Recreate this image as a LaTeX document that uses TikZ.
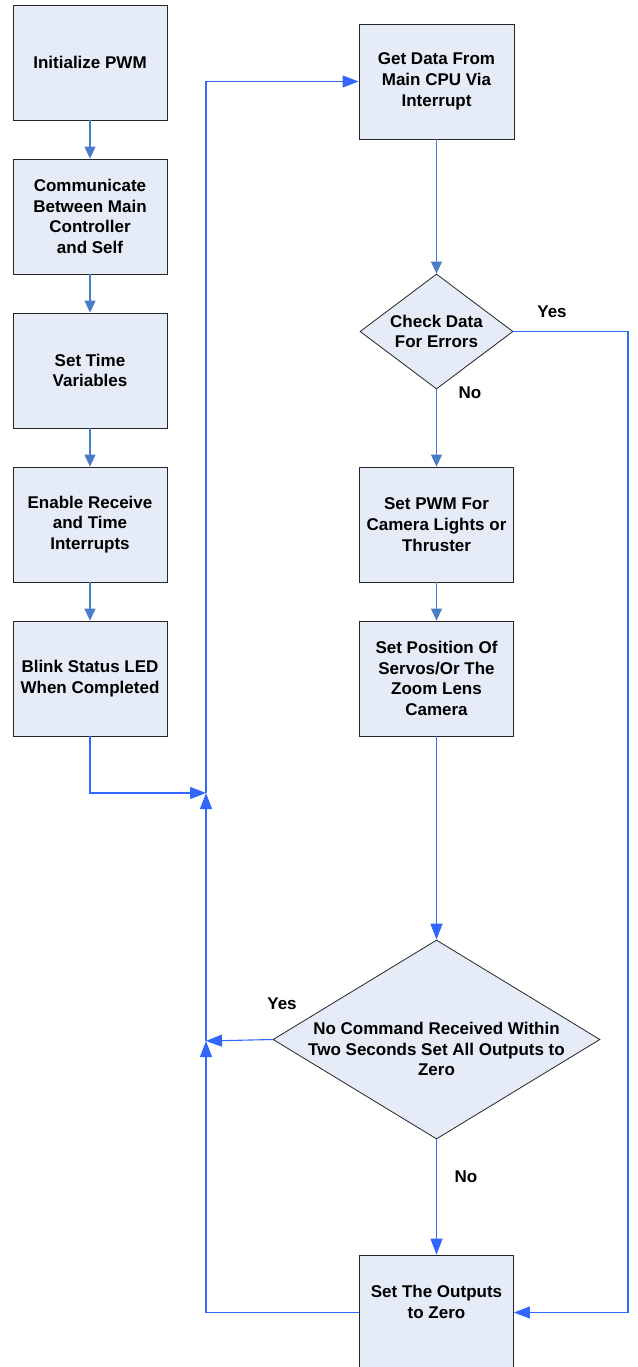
\documentclass[tikz,border=0pt]{standalone}
\usepackage{fontspec}
\setmainfont{Liberation Sans}
\usetikzlibrary{shapes.geometric,arrows.meta}
\definecolor{boxfill}{HTML}{E6ECF7}
\definecolor{arrA}{HTML}{4A7CC9}
\definecolor{arrB}{HTML}{3366FF}
\newcommand\flowtxt{\fontsize{17}{20.7}\selectfont\bfseries}
\tikzset{
 proc/.style={draw=black!85,line width=0.8pt,fill=boxfill,minimum width=154pt,minimum height=115pt,inner sep=0pt,align=center,font=\flowtxt},
 dec/.style={diamond,draw=black!85,line width=0.8pt,fill=boxfill,inner sep=0pt},
 lbl/.style={align=center,font=\flowtxt,inner sep=0pt},
 flowA/.style={draw=arrA,line width=1.1pt,-{Triangle[length=12pt,width=11pt]}},
 flowB/.style={draw=arrB,line width=1.1pt,-{Triangle[length=16pt,width=12pt]}},
}
\begin{document}
\begin{tikzpicture}[x=1pt,y=-1pt]
\useasboundingbox (0,0) rectangle (637,1367);
\fill[white] (0,0) rectangle (637,1367);
\clip (0,0) rectangle (637,1367);
% left column
\node[proc] (b1) at (90,62.5) {Initialize PWM};
\node[proc] (b2) at (90,216.5) {Communicate\\Between Main\\Controller\\and Self};
\node[proc] (b3) at (90,370.5) {Set Time\\Variables};
\node[proc] (b4) at (90,524.5) {Enable Receive\\and Time\\Interrupts};
\node[proc] (b5) at (90,678.5) {Blink Status LED\\When Completed};
% right column
\node[proc,minimum width=155pt] (r1) at (436.5,81.5) {Get Data From\\Main CPU Via\\Interrupt};
\node[dec,minimum width=153pt,minimum height=115pt] (d1) at (436.5,331.5) {};
\node[lbl] (d1t) at (436.5,331.5) {Check Data\\For Errors};
\node[proc] (r2) at (436.5,524.5) {Set PWM For\\Camera Lights or\\Thruster};
\node[proc] (r3) at (436.5,678.5) {Set Position Of\\Servos/Or The\\Zoom Lens\\Camera};
\node[dec,minimum width=327pt,minimum height=199pt] (d2) at (436.5,1039.5) {};
\node[lbl] (d2t) at (436.5,1049) {No Command Received Within\\Two Seconds Set All Outputs to\\Zero};
\node[proc] (r4) at (436.5,1312.5) {};
\node[lbl] (r4t) at (436.5,1302) {Set The Outputs\\to Zero};
% coordinates
\coordinate (j1) at (206,793);
\coordinate (j2) at (206,1041);
\coordinate (tl) at (206,81.5);
\coordinate (c5) at (90,793);
\coordinate (c4) at (206,1312.5);
\coordinate (e1) at (628,331.5);
\coordinate (e2) at (628,1312.5);
% connectors
\draw[flowA] (b1.south) -- (b2.north);
\draw[flowA] (b2.south) -- (b3.north);
\draw[flowA] (b3.south) -- (b4.north);
\draw[flowA] (b4.south) -- (b5.north);
\draw[flowB] (b5.south) -- (c5) -- (j1);
\draw[flowB] (d2.west) -- (j2);
\draw[flowB] (r4.west) -- (c4) -- (j2);
\draw[flowB] (j2) -- (j1);
\draw[flowB] (j1) -- (tl) -- (r1.west);
\draw[flowA] (r1.south) -- (d1.north);
\draw[flowA] (d1.south) -- (r2.north);
\draw[flowA] (r2.south) -- (r3.north);
\draw[flowB] (r3.south) -- (d2.north);
\draw[flowB] (d2.south) -- (r4.north);
\draw[flowB] (d1.east) -- (e1) -- (e2) -- (r4.east);
% labels
\node[lbl] (y1) at (552,312) {Yes};
\node[lbl] (n1) at (470,393) {No};
\node[lbl] (y2) at (282,1004) {Yes};
\node[lbl] (n2) at (466,1177) {No};
\end{tikzpicture}
\end{document}
